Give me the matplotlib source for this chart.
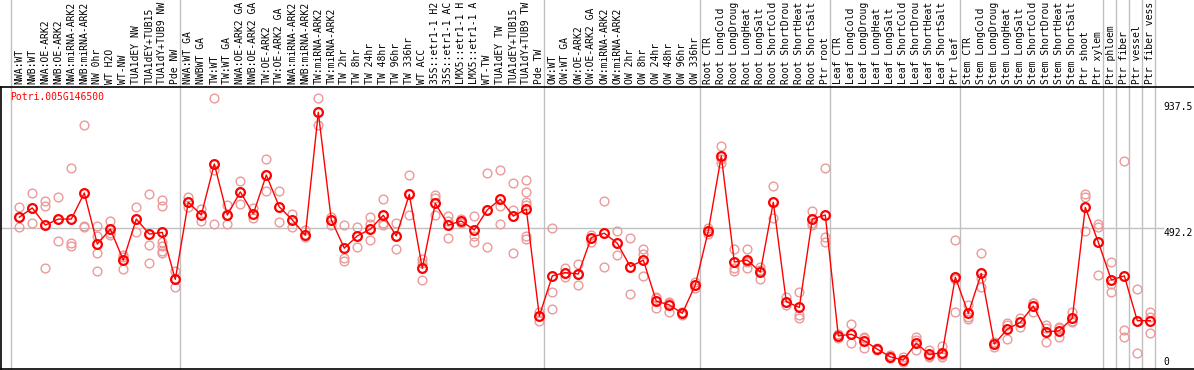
import numpy as np
import matplotlib
matplotlib.use('Agg')
import matplotlib.pyplot as plt

gene = "Potri.005G146500"

# sample names as they show on the chart (cut at the top edge)
labels = ["NWA:WT", "NWB:WT", "NWA:OE-ARK2", "NWB:OE-ARK2", "NWA:miRNA-ARK2", "NWB:miRNA-ARK2",
          "NW 0hr", "WT H2O", "WT-NW", "TUA1dEY NW", "TUA1dEY+TUB15", "TUA1dY+TUB9 NW", "Pde NW",
          "NWA:WT GA", "NWBWT GA", "TW:WT", "TW:WT GA", "NWA:OE-ARK2 GA", "NWB:OE-ARK2 GA",
          "TW:OE-ARK2", "TW:OE-ARK2 GA", "NWA:miRNA-ARK2", "NWB:miRNA-ARK2", "TW:miRNA-ARK2",
          "TW:miRNA-ARK2", "TW 2hr", "TW 8hr", "TW 24hr", "TW 48hr", "TW 96hr", "TW 336hr", "WT ACC",
          "35S::etr1-1 H2", "35S::etr1-1 AC", "LMX5::etr1-1 H", "LMX5::etr1-1 A", "WT-TW",
          "TUA1dEY TW", "TUA1dEY+TUB15", "TUA1dY+TUB9 TW", "Pde TW",
          "OW:WT", "OW:WT GA", "OW:OE-ARK2", "OW:OE-ARK2 GA", "OW:miRNA-ARK2", "OW:miRNA-ARK2",
          "OW 2hr", "OW 8hr", "OW 24hr", "OW 48hr", "OW 96hr", "OW 336hr",
          "Root CTR", "Root LongCold", "Root LongDroug", "Root LongHeat", "Root LongSalt",
          "Root ShortCold", "Root ShortDrou", "Root ShortHeat", "Root ShortSalt", "Ptr root",
          "Leaf CTR", "Leaf LongCold", "Leaf LongDroug", "Leaf LongHeat", "Leaf LongSalt",
          "Leaf ShortCold", "Leaf ShortDrou", "Leaf ShortHeat", "Leaf ShortSalt", "Ptr leaf",
          "Stem CTR", "Stem LongCold", "Stem LongDroug", "Stem LongHeat", "Stem LongSalt",
          "Stem ShortCold", "Stem ShortDrou", "Stem ShortHeat", "Stem ShortSalt", "Ptr shoot",
          "Ptr xylem", "Ptr phloem", "Ptr fiber", "Ptr vessel", "Ptr fiber vess"]

# first sample of each group (last entry = end)
group_starts = [0, 13, 41, 53, 63, 73, 84, 85, 86, 87, 88]

means = [532, 566, 503, 525, 525, 621, 433, 488, 374, 525, 470, 476, 303,
         587, 540, 728, 540, 625, 544, 687, 570, 522, 466, 918, 522, 418, 463, 488, 539, 463,
         616, 344, 583, 503, 518, 485, 559, 598, 536, 562, 168,
         316, 328, 323, 457, 473, 436, 350, 374, 223, 209, 178, 282,
         481, 757, 367, 374, 330, 587, 221, 200, 525, 540,
         95, 101, 77, 46, 18, 6, 68, 27, 33, 311,
         178, 325, 65, 120, 145, 205, 110, 114, 160, 568, 440,
         301, 316, 151, 151]

reps = [[568, 532, 495], [620, 566, 510], [593, 574, 344], [605, 525, 444], [712, 436, 426],
        [870, 498, 495], [500, 464, 399, 334], [518, 473, 465], [393, 387, 340], [570, 525, 476],
        [616, 429, 363], [595, 574, 442, 426, 409, 400], [334, 303, 274],
        [605, 587, 568], [561, 519], [970, 706, 506], [577, 540, 506], [665, 625, 580],
        [565, 528], [745, 687, 629], [629, 514], [545, 497], [485, 467, 460], [970, 872],
        [534, 522, 503], [503, 381, 372], [495, 463, 421], [532, 506, 448], [598, 510, 503],
        [510, 463, 414], [686, 616, 541], [377, 365, 300], [614, 602, 539], [536, 519, 454],
        [525, 518, 511], [536, 464, 442], [694, 559, 422], [705, 574, 506], [657, 559, 399],
        [669, 624, 589, 577, 464, 452], [184, 168, 151],
        [491, 256, 193], [344, 328, 313], [360, 323, 282], [467, 457, 442], [592, 473, 350],
        [481, 436, 392], [454, 350, 248], [415, 395, 316], [237, 235, 197], [221, 216, 184],
        [184, 178, 172], [295, 282, 270],
        [491, 481, 470], [794, 745, 733], [415, 344, 334], [415, 367, 344], [350, 338, 303],
        [646, 587, 528], [237, 221, 209], [257, 172, 160], [555, 510, 503], [712, 460, 442],
        [102, 95, 88], [139, 101, 68], [90, 87, 49], [49, 46, 42], [25, 18, 13], [16, 4, 0],
        [90, 80, 43], [43, 20, 18], [58, 24, 18], [447, 303, 182],
        [209, 166, 156], [399, 307, 274], [74, 65, 53], [141, 135, 84], [162, 146, 127],
        [217, 215, 182], [135, 123, 74], [127, 124, 92], [184, 150, 145], [617, 608, 481],
        [506, 497, 319],
        [366, 285, 256], [739, 117, 92], [267, 31], [184, 166, 105]]

ytick_vals = [937.5, 492.2, 0]

plt.rcParams['font.family'] = 'DejaVu Sans Mono'
fs = 7.0

fig = plt.figure(figsize=(11.94, 3.70), dpi=100)
ax = fig.add_axes([1 / 1194, 1.5 / 370, 1193 / 1194, 282 / 370])

# sample i sits at 19.3 + 13*i pixels
ax.set_xlim((1 - 19.3) / 13, (1194 - 19.3) / 13)
ax.set_ylim(-25, 1013)

x = np.arange(len(means))

# group separators, running through the label area up to the top edge
for s in group_starts:
    ax.axvline(s - 0.64, ymin=0, ymax=1.31, color='#c0c0c0', lw=1, clip_on=False, zorder=0)

# middle reference line
ax.plot([ax.get_xlim()[0], 87.98], [ytick_vals[1], ytick_vals[1]], color='#c0c0c0', lw=1,
        clip_on=False, zorder=0)

# replicates
rx = [i for i, r in enumerate(reps) for _ in r]
ry = [v for r in reps for v in r]
ax.plot(rx, ry, 'o', ms=6.3, mfc='none', mec='#eb9a9a', mew=1.0, zorder=2)

# means
ax.plot(x, means, '-', color='red', lw=1.0, zorder=3)
ax.plot(x, means, 'o', ms=6.3, mfc='none', mec='red', mew=1.6, zorder=4)

# sample labels above the plot
for i, lab in enumerate(labels):
    ax.text(i, 1 + 2.5 / 282, lab, transform=ax.get_xaxis_transform(), rotation=90,
            ha='center', va='bottom', fontsize=fs, color='black', clip_on=False)

ax.text((10 - 19.3) / 13, 975, gene, color='red', fontsize=fs, ha='left', va='center')

# value labels on the right
xt = (1163 - 19.3) / 13
ax.text(xt, ytick_vals[0], "937.5", fontsize=fs, ha='left', va='center', clip_on=False)
ax.text(xt, ytick_vals[1], "492.2", fontsize=fs, ha='left', va='top', clip_on=False)
ax.text(xt, ytick_vals[2], "0", fontsize=fs, ha='left', va='center', clip_on=False)

ax.set_xticks([])
ax.set_yticks([])
ax.spines['right'].set_visible(False)
for sp in ['left', 'top', 'bottom']:
    ax.spines[sp].set_color('black')
    ax.spines[sp].set_linewidth(1.2)

plt.savefig('out.png', dpi=100)
